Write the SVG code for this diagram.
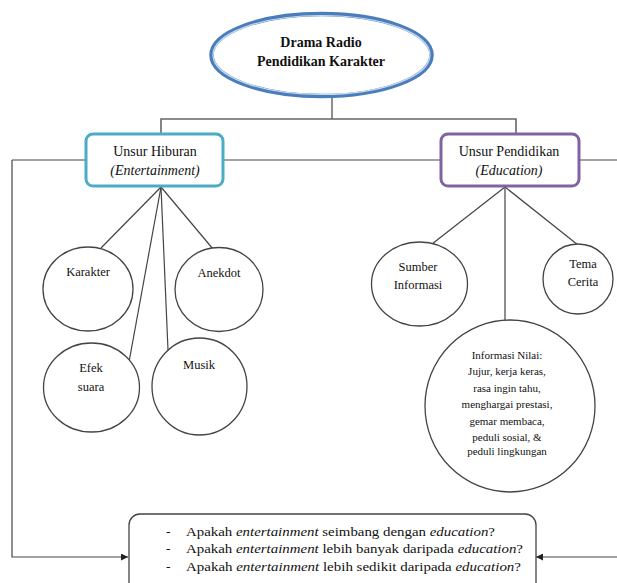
<svg xmlns="http://www.w3.org/2000/svg" width="617" height="583" viewBox="0 0 617 583">
<style>
text{font-family:"Liberation Serif","Times New Roman",serif;fill:#111;}
.t{font-size:14px;text-anchor:middle;}
.c{font-size:12.5px;text-anchor:middle;}
.n{font-size:11px;text-anchor:middle;}
.q{font-size:13.5px;}
.circ{fill:#fff;stroke:#444;stroke-width:1.3;}
.con{fill:none;stroke:#444;stroke-width:1.2;}
</style>
<defs>
<marker id="ah" viewBox="0 0 10 10" refX="10" refY="5" markerWidth="7" markerHeight="7" orient="auto" markerUnits="userSpaceOnUse">
<path d="M0,0 L10,5 L0,10 z" fill="#222"/>
</marker>
</defs>
<rect width="617" height="583" fill="#fff"/>
<g id="connectors">
<line class="con" x1="332" y1="97" x2="332" y2="119"/>
<polyline class="con" points="161,134 161,119 516,119 516,134" style="stroke:#666;stroke-width:1.6"/>
<line class="con" x1="12" y1="160" x2="85" y2="160"/>
<line class="con" x1="223" y1="160" x2="440" y2="160"/>
<line class="con" x1="580" y1="160" x2="617" y2="160"/>
<polyline class="con" points="12,160 12,557 128,557" marker-end="url(#ah)"/>
<line class="con" x1="617" y1="557" x2="536" y2="557" marker-end="url(#ah)"/>
<line class="con" x1="161" y1="187" x2="101" y2="248"/>
<line class="con" x1="161" y1="187" x2="213" y2="249"/>
<line class="con" x1="161" y1="187" x2="129" y2="362"/>
<line class="con" x1="161" y1="187" x2="168" y2="350"/>
<line class="con" x1="505" y1="187" x2="432" y2="244"/>
<line class="con" x1="505" y1="187" x2="578" y2="245"/>
<line class="con" x1="505" y1="187" x2="505" y2="320"/>
</g>
<g id="root">
<ellipse cx="321.5" cy="55" rx="110" ry="41" fill="#fff" stroke="#4a7ebb" stroke-width="4.5"/>
<ellipse cx="321.5" cy="55" rx="108.5" ry="39.5" fill="none" stroke="#c9daf0" stroke-width="1.2"/>
<text class="t" x="321" y="47" font-weight="bold">Drama Radio</text>
<text class="t" x="321" y="66" font-weight="bold">Pendidikan Karakter</text>
</g>
<g id="hiburan">
<rect x="86" y="134" width="137" height="52" rx="7" fill="#fff" stroke="#4bacc6" stroke-width="3"/>
<text class="t" x="155" y="156">Unsur Hiburan</text>
<text class="t" x="155" y="175" font-style="italic">(Entertainment)</text>
</g>
<g id="pendidikan">
<rect x="441" y="134" width="138" height="52" rx="7" fill="#fff" stroke="#8064a2" stroke-width="3"/>
<text class="t" x="509" y="156">Unsur Pendidikan</text>
<text class="t" x="509" y="175" font-style="italic">(Education)</text>
</g>
<g id="karakter">
<ellipse class="circ" cx="88" cy="289" rx="45" ry="42"/>
<text class="c" x="88" y="276">Karakter</text>
</g>
<g id="anekdot">
<ellipse class="circ" cx="219" cy="289.5" rx="44" ry="42"/>
<text class="c" x="219" y="277">Anekdot</text>
</g>
<g id="efek">
<ellipse class="circ" cx="91.5" cy="387.5" rx="48" ry="44.5"/>
<text class="c" x="91" y="372">Efek</text>
<text class="c" x="91" y="391">suara</text>
</g>
<g id="musik">
<ellipse class="circ" cx="199.5" cy="386.5" rx="47.5" ry="48.5"/>
<text class="c" x="199" y="369">Musik</text>
</g>
<g id="sumber">
<ellipse class="circ" cx="419.5" cy="284" rx="48" ry="42"/>
<text class="c" x="418" y="271">Sumber</text>
<text class="c" x="418" y="289">Informasi</text>
</g>
<g id="tema">
<ellipse class="circ" cx="578" cy="279" rx="35" ry="35"/>
<text class="c" x="583" y="268">Tema</text>
<text class="c" x="583" y="286">Cerita</text>
</g>
<g id="nilai">
<ellipse class="circ" cx="510" cy="406" rx="85" ry="86"/>
<text class="n" x="507" y="359">Informasi Nilai:</text>
<text class="n" x="507" y="375">Jujur, kerja keras,</text>
<text class="n" x="507" y="392">rasa ingin tahu,</text>
<text class="n" x="507" y="408">menghargai prestasi,</text>
<text class="n" x="507" y="425">gemar membaca,</text>
<text class="n" x="507" y="441">peduli sosial, &amp;</text>
<text class="n" x="507" y="455">peduli lingkungan</text>
</g>
<g id="pertanyaan">
<rect x="129" y="514" width="407" height="80" rx="11" fill="#fff" stroke="#444" stroke-width="1.3"/>
<text class="q" x="166" y="536">-</text>
<text class="q" x="166" y="553">-</text>
<text class="q" x="166" y="571">-</text>
<text class="q" x="186" y="536" textLength="309" lengthAdjust="spacingAndGlyphs">Apakah <tspan font-style="italic">entertainment</tspan> seimbang dengan <tspan font-style="italic">education</tspan>?</text>
<text class="q" x="186" y="553" textLength="337" lengthAdjust="spacingAndGlyphs">Apakah <tspan font-style="italic">entertainment</tspan> lebih banyak daripada <tspan font-style="italic">education</tspan>?</text>
<text class="q" x="186" y="571" textLength="335" lengthAdjust="spacingAndGlyphs">Apakah <tspan font-style="italic">entertainment</tspan> lebih sedikit daripada <tspan font-style="italic">education</tspan>?</text>
</g>
</svg>
